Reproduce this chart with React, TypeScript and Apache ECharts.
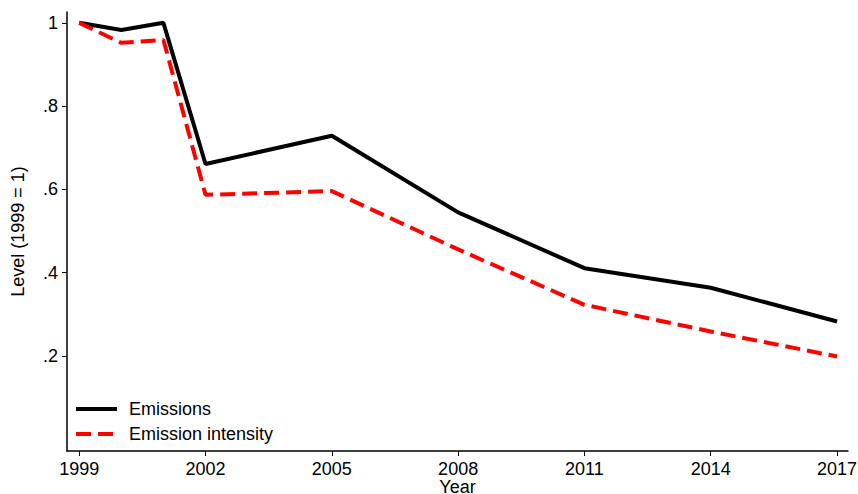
import React, { useEffect, useRef } from "react";
import * as echarts from "echarts";

const years = [1999, 2000, 2001, 2002, 2005, 2008, 2011, 2014, 2017];
const emissions = [1.0, 0.983, 1.0, 0.661, 0.729, 0.545, 0.411, 0.364, 0.283];
const intensity = [1.0, 0.952, 0.959, 0.587, 0.596, 0.456, 0.323, 0.259, 0.199];
const xTicks = [1999, 2002, 2005, 2008, 2011, 2014, 2017];
const yTicks = [0.2, 0.4, 0.6, 0.8, 1];
const legendNames = ["Emissions", "Emission intensity"];

const FONT = "Liberation Sans, Arial, Helvetica, sans-serif";

export default function App() {
  const ref = useRef<HTMLDivElement>(null);
  useEffect(() => {
    document.body.style.margin = "0";
    if (!ref.current) return;
    const chart = echarts.init(ref.current, undefined, { renderer: "svg" });
    const fmtY = (v: number) => {
      if (Math.abs(v - 1) < 1e-9) return "1";
      return "." + Math.round(v * 10).toString();
    };
    chart.setOption({
      animation: false,
      backgroundColor: "#ffffff",
      textStyle: { fontFamily: FONT, color: "#000" },
      grid: {
        left: 67,
        right: 10,
        top: 12,
        bottom: 43,
        containLabel: false,
        outerBoundsMode: "none",
      },
      graphic: [
        {
          type: "line",
          shape: { x1: 76, y1: 409, x2: 117, y2: 409 },
          style: { stroke: "#000", lineWidth: 4 },
        },
        {
          type: "text",
          x: 129,
          y: 409,
          style: { text: legendNames[0], fontFamily: FONT, fontSize: 18, fill: "#000", verticalAlign: "middle" },
        },
        {
          type: "line",
          shape: { x1: 76, y1: 434, x2: 117, y2: 434 },
          style: { stroke: "#ff0000", lineWidth: 4, lineDash: [15, 7] },
        },
        {
          type: "text",
          x: 129,
          y: 434,
          style: { text: legendNames[1], fontFamily: FONT, fontSize: 18, fill: "#000", verticalAlign: "middle" },
        },
      ],
      xAxis: {
        type: "value",
        min: 1998.71,
        max: 2017.26,
        name: "Year",
        nameLocation: "middle",
        nameGap: 27,
        nameMoveOverlap: false,
        nameTextStyle: { fontFamily: FONT, fontSize: 18, color: "#000" },
        splitLine: { show: false },
        axisLine: { show: true, onZero: false, lineStyle: { color: "#000", width: 1.5 } },
        axisTick: { show: true, length: 5, lineStyle: { color: "#000", width: 1 }, customValues: xTicks },
        axisLabel: {
          customValues: xTicks,
          fontFamily: FONT,
          fontSize: 18,
          color: "#000",
          margin: 9,
          formatter: (v: number) => String(Math.round(v)),
        },
      },
      yAxis: {
        type: "value",
        min: -0.028,
        max: 1.026,
        name: "Level (1999 = 1)",
        nameLocation: "middle",
        nameRotate: 90,
        nameGap: 40,
        nameMoveOverlap: false,
        nameTextStyle: { fontFamily: FONT, fontSize: 18, color: "#000" },
        splitLine: { show: false },
        axisLine: { show: true, onZero: false, lineStyle: { color: "#000", width: 1.5 } },
        axisTick: { show: true, length: 5, lineStyle: { color: "#000", width: 1 }, customValues: yTicks },
        axisLabel: {
          customValues: yTicks,
          fontFamily: FONT,
          fontSize: 18,
          color: "#000",
          margin: 9,
          formatter: fmtY,
        },
      },
      series: [
        {
          name: "Emissions",
          type: "line",
          data: years.map((y, i) => [y, emissions[i]]),
          symbol: "none",
          lineStyle: { color: "#000", width: 4, type: "solid" },
          itemStyle: { color: "#000" },
        },
        {
          name: "Emission intensity",
          type: "line",
          data: years.map((y, i) => [y, intensity[i]]),
          symbol: "none",
          lineStyle: { color: "#ff0000", width: 4, type: [15, 7] },
          itemStyle: { color: "#ff0000" },
        },
      ],
    });
    return () => chart.dispose();
  }, []);
  return <div ref={ref} style={{ width: 858, height: 494 }} />;
}
